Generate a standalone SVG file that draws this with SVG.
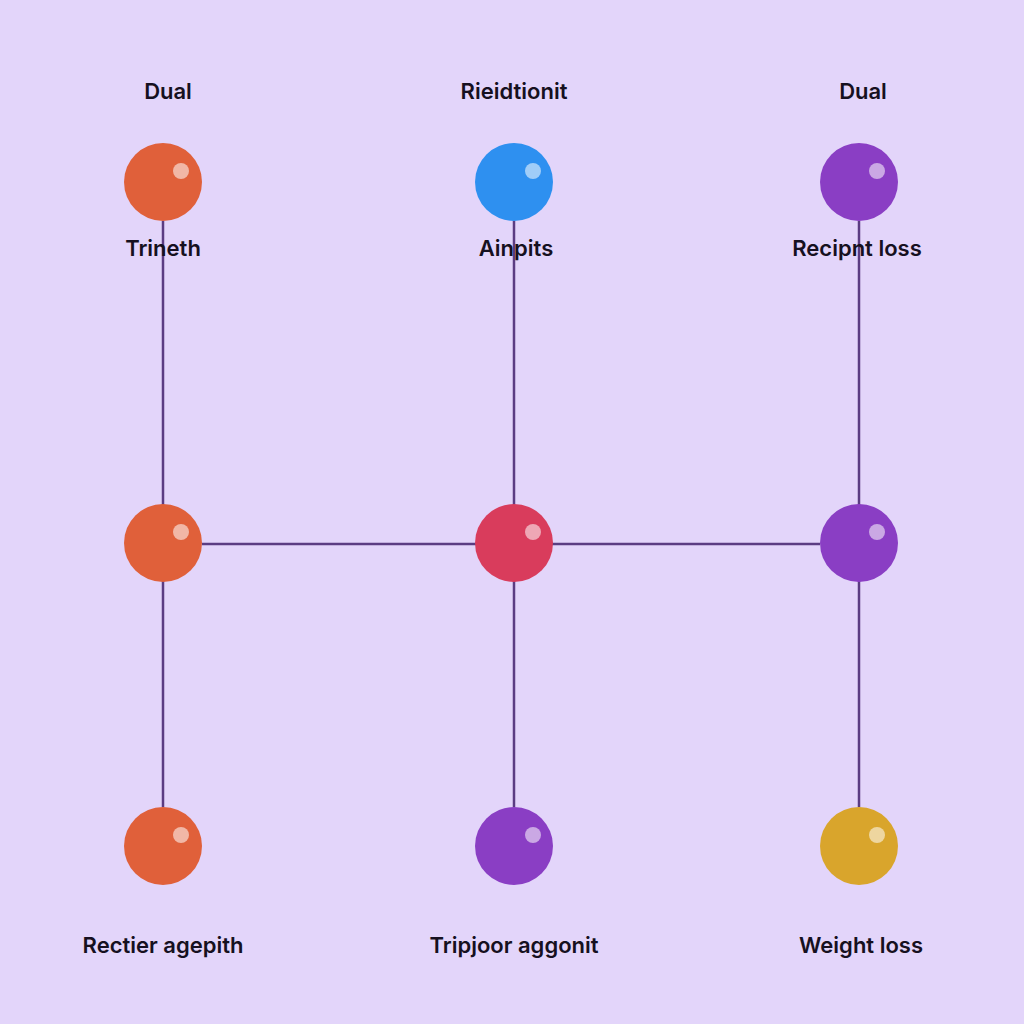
<svg xmlns="http://www.w3.org/2000/svg" width="1024" height="1024" viewBox="0 0 1024 1024">
<defs>
<style>
.t{font-family:Inter,"Liberation Sans",sans-serif;font-size:22px;font-weight:600;fill:#161020;text-anchor:middle}
.e{stroke:#5B3C82;stroke-width:2.5;fill:none}
.hl{fill:#fff;opacity:0.55}
.sh{fill:#000;opacity:0.1}
</style>
</defs>
<rect width="1024" height="1024" fill="#E3D5FA"/>
<g id="connectors">
<line class="e" x1="163" y1="221" x2="163" y2="807"/>
<line class="e" x1="514" y1="221" x2="514" y2="807"/>
<line class="e" x1="859" y1="221" x2="859" y2="807"/>
<line class="e" x1="202" y1="544" x2="820" y2="544"/>
</g>
<g id="labels-top">
<text class="t" x="168" y="99">Dual</text>
<text class="t" x="514" y="99">Rieidtionit</text>
<text class="t" x="863" y="99">Dual</text>
</g>
<g id="n1"><circle cx="163" cy="182" r="39" fill="#E0603A"/><circle cx="181" cy="171" r="8" class="hl"/><text class="t" x="163" y="256">Trineth</text></g>
<g id="n2"><circle cx="514" cy="182" r="39" fill="#2E90F0"/><circle cx="533" cy="171" r="8" class="hl"/><text class="t" x="516" y="256">Ainpits</text></g>
<g id="n3"><circle cx="859" cy="182" r="39" fill="#8A3EC4"/><circle cx="877" cy="171" r="8" class="hl"/><text class="t" x="857" y="256">Recipnt loss</text></g>
<g id="n4"><circle cx="163" cy="543" r="39" fill="#E0603A"/><circle cx="181" cy="532" r="8" class="hl"/></g>
<g id="n5"><circle cx="514" cy="543" r="39" fill="#D93C5C"/><circle cx="533" cy="532" r="8" class="hl"/></g>
<g id="n6"><circle cx="859" cy="543" r="39" fill="#8A3EC4"/><circle cx="877" cy="532" r="8" class="hl"/></g>
<g id="n7"><circle cx="163" cy="846" r="39" fill="#E0603A"/><circle cx="181" cy="835" r="8" class="hl"/><text class="t" x="163" y="953">Rectier agepith</text></g>
<g id="n8"><circle cx="514" cy="846" r="39" fill="#8A3EC4"/><circle cx="533" cy="835" r="8" class="hl"/><text class="t" x="514" y="953">Tripjoor aggonit</text></g>
<g id="n9"><circle cx="859" cy="846" r="39" fill="#D9A52C"/><circle cx="877" cy="835" r="8" class="hl"/><text class="t" x="861" y="953">Weight loss</text></g>
</svg>
